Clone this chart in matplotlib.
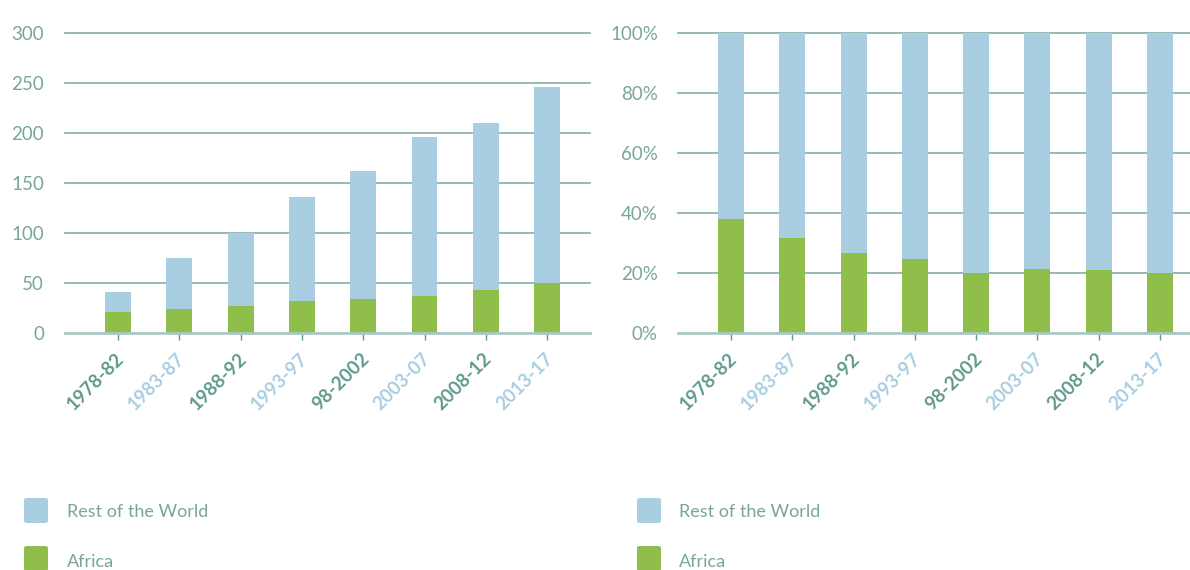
import matplotlib
matplotlib.use("Agg")
import matplotlib.pyplot as plt
from matplotlib.patches import FancyBboxPatch
import matplotlib.transforms as mtransforms
import numpy as np

periods = ["1978-82", "1983-87", "1988-92", "1993-97", "98-2002", "2003-07", "2008-12", "2013-17"]
africa = [21, 24, 27, 32, 34, 37, 43, 50]
totals = [41, 75, 100, 136, 162, 196, 210, 246]
rest = [t - a for t, a in zip(totals, africa)]
africa_pct = [38, 31.7, 26.7, 24.7, 20, 21.3, 21, 20]
rest_pct = [100 - p for p in africa_pct]
left_ticks = [0, 50, 100, 150, 200, 250, 300]
right_ticks = [0, 20, 40, 60, 80, 100]
right_labels = ["0%", "20%", "40%", "60%", "80%", "100%"]
legend_labels = ["Rest of the World", "Africa"]

GREEN = "#8fbe4b"
BLUE = "#a9cee1"
DARK = "#5f998d"
YLAB = "#78a69d"
GRID = "#8fb4ae"
FONT = ["Lato", "DejaVu Sans"]

fig = plt.figure(figsize=(11.9, 5.7), dpi=100)
W, H = 1190, 570

def make_axes(x0, x1, y_top, y_bot):
    return fig.add_axes([x0 / W, 1 - y_bot / H, (x1 - x0) / W, (y_bot - y_top) / H])

ax1 = make_axes(65, 590, 33, 333)
ax2 = make_axes(678, 1190, 33, 333)

def style(ax, ticks, labels, xlim, width, bottom_vals, top_vals, ypad):
    x = np.arange(len(periods))
    ax.bar(x, bottom_vals, width=width, color=GREEN, zorder=3)
    ax.bar(x, top_vals, bottom=bottom_vals, width=width, color=BLUE, zorder=3)
    ax.set_xlim(*xlim)
    ax.set_ylim(ticks[0], ticks[-1])
    for s in ax.spines.values():
        s.set_visible(False)
    for t in ticks[1:]:
        ax.axhline(t, color=GRID, lw=1.3, zorder=1, clip_on=False)
    ax.axhline(ticks[0], color="#a9c8c4", lw=2.0, zorder=4, clip_on=False)
    ax.set_yticks(ticks)
    ax.set_yticklabels(labels, fontsize=13.5, color=YLAB, family=FONT)
    ax.tick_params(axis="y", length=0, pad=ypad)
    ax.set_xticks(x)
    ax.set_xticklabels(periods, rotation=45, ha="right", va="top",
                       rotation_mode="anchor", fontsize=13.5, fontweight="bold", family=FONT)
    ax.tick_params(axis="x", length=5, color=DARK, width=1, pad=7)
    for i, lab in enumerate(ax.get_xticklabels()):
        lab.set_color(DARK if i % 2 == 0 else BLUE)
        off = mtransforms.ScaledTranslation(-3 / 100, 0, fig.dpi_scale_trans)
        lab.set_transform(lab.get_transform() + off)

style(ax1, left_ticks, [str(t) for t in left_ticks], (-0.865, 7.70), 0.424, africa, rest, 15)
style(ax2, right_ticks, right_labels, (-0.865, 7.49), 0.424, africa_pct, rest_pct, 14.5)

def legend(xbox, xtext):
    for (ytop, ytext, col, lab) in [(498, 512, BLUE, legend_labels[0]), (546, 562, GREEN, legend_labels[1])]:
        p = FancyBboxPatch((xbox / W, 1 - (ytop + 25) / H), 24 / W, 25 / H,
                           boxstyle="round,pad=0,rounding_size=0.003",
                           transform=fig.transFigure, facecolor=col, edgecolor="none")
        fig.add_artist(p)
        fig.text(xtext / W, 1 - ytext / H, lab, fontsize=13, color=YLAB,
                 family=FONT, va="center", ha="left")

legend(24, 67)
legend(637, 679)

fig.savefig("out.png", dpi=100)
